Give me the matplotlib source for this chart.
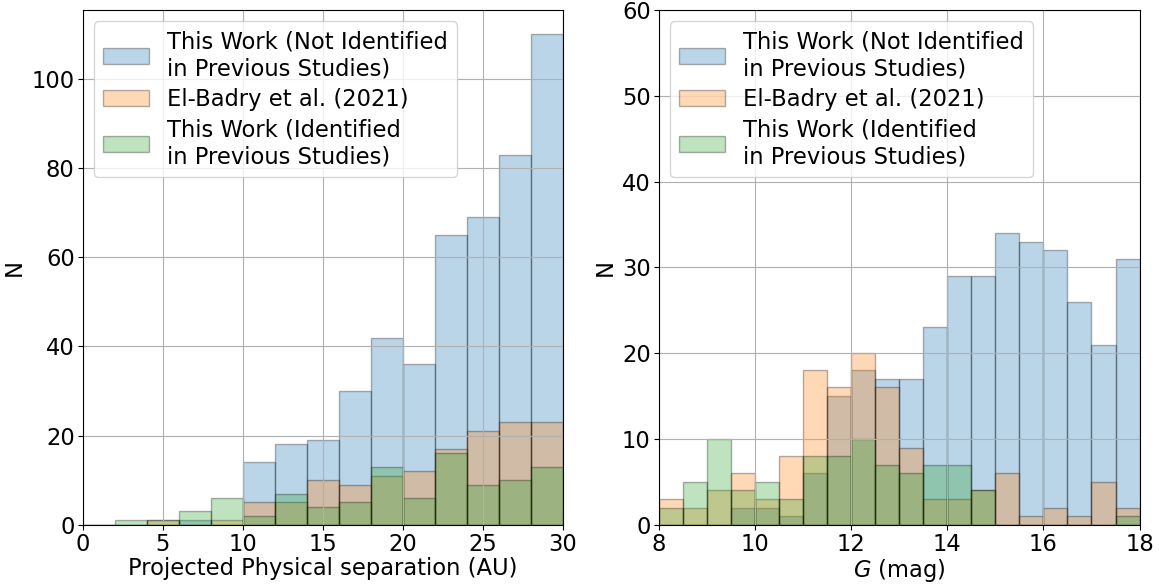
import numpy as np
import matplotlib
matplotlib.use("Agg")
import matplotlib.pyplot as plt

# Left panel: projected separation (AU), bins of width 2 from 0 to 30
sep_edges = [0, 2, 4, 6, 8, 10, 12, 14, 16, 18, 20, 22, 24, 26, 28, 30]
sep_new = [0, 0, 0, 1, 0, 14, 18, 19, 30, 42, 36, 65, 69, 83, 110]
sep_elbadry = [0, 0, 1, 0, 1, 5, 5, 10, 9, 11, 12, 17, 21, 23, 23]
sep_known = [0, 1, 1, 3, 6, 2, 7, 4, 5, 13, 6, 16, 9, 10, 13]

# Right panel: G magnitude, bins of width 0.5 from 8 to 18
g_edges = [8.0, 8.5, 9.0, 9.5, 10.0, 10.5, 11.0, 11.5, 12.0, 12.5, 13.0,
           13.5, 14.0, 14.5, 15.0, 15.5, 16.0, 16.5, 17.0, 17.5, 18.0]
g_new = [0, 0, 0, 2, 2, 1, 6, 15, 18, 17, 17, 23, 29, 29, 34, 33, 32, 26, 21, 31]
g_elbadry = [3, 2, 4, 6, 3, 8, 18, 16, 20, 16, 9, 3, 3, 4, 6, 1, 2, 1, 5, 2]
g_known = [2, 5, 10, 4, 5, 3, 8, 8, 10, 7, 6, 7, 7, 4, 0, 0, 0, 0, 0, 1]

labels = ["This Work (Not Identified\nin Previous Studies)",
          "El-Badry et al. (2021)",
          "This Work (Identified\nin Previous Studies)"]

FS = 16.3
fig = plt.figure(figsize=(11.59, 5.84), dpi=100)
ax1 = fig.add_axes([0.0716, 0.1015, 0.4142, 0.8815])
ax2 = fig.add_axes([0.5686, 0.1015, 0.4146, 0.8815])


def draw(ax, edges, series):
    edges = np.asarray(edges, dtype=float)
    centers = edges[:-1]
    for vals, col, lab in zip(series, ["C0", "C1", "C2"], labels):
        ax.hist(centers, bins=edges, weights=vals, color=col, alpha=0.3,
                edgecolor="k", label=lab)
    ax.grid(True)
    ax.set_ylabel("N", fontsize=FS)
    ax.tick_params(labelsize=FS, pad=2.5)
    leg = ax.legend(loc="upper left", fontsize=FS, labelspacing=0.33)
    for t in leg.get_texts():
        t.set_linespacing(1.22)


draw(ax1, sep_edges, [sep_new, sep_elbadry, sep_known])
ax1.set_xlim(0, 30)
ax1.set_xlabel("Projected Physical separation (AU)", fontsize=FS, labelpad=1)

draw(ax2, g_edges, [g_new, g_elbadry, g_known])
ax2.set_xlim(8, 18)
ax2.set_ylim(0, 60)
ax2.set_xlabel("$G$ (mag)", fontsize=FS, labelpad=1)

fig.savefig("out.png", dpi=100)
